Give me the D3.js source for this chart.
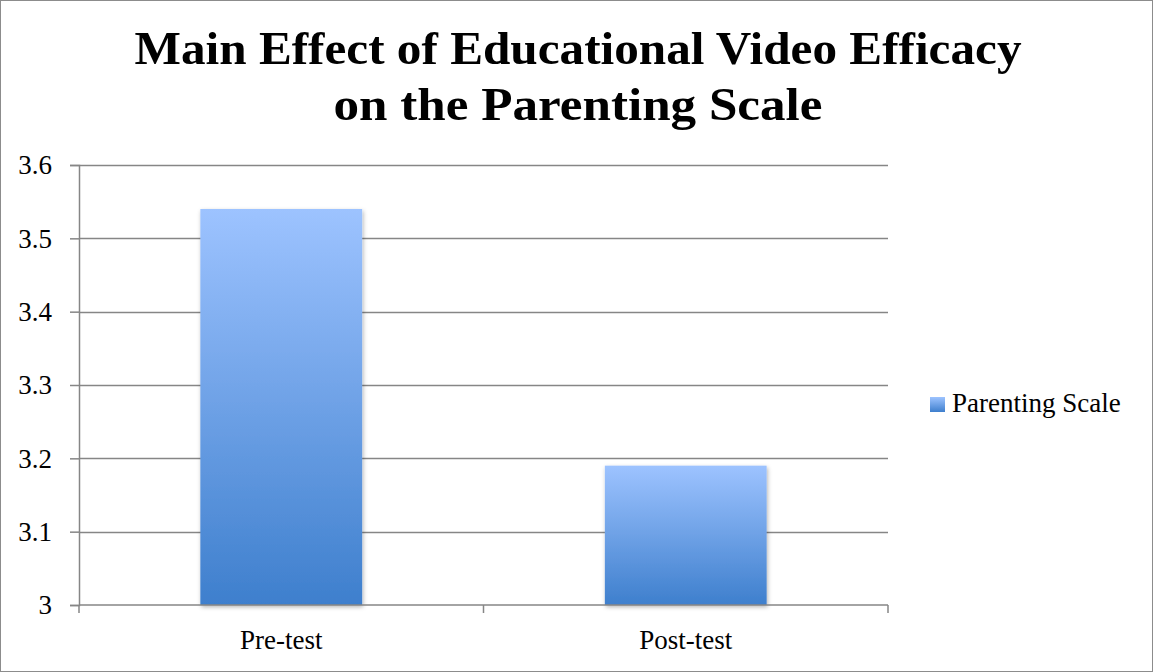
<!DOCTYPE html>
<html lang="en">
<head>
  <meta charset="UTF-8">
  <title>Main Effect of Educational Video Efficacy</title>
  <style>
    body { margin: 0; background: #fff; }
    text { font-family: "Liberation Serif", "DejaVu Serif", serif; fill: #000; }
    .axis path, .axis line { stroke: #868686; }
  </style>
</head>
<body>
<div id="chart"></div>

<script src="https://d3js.org/d3.v7.min.js"></script>
<script>

// data
var categories = ["Pre-test", "Post-test"];
var values = [3.54, 3.19];
var seriesName = "Parenting Scale";
var yTicks = [3, 3.1, 3.2, 3.3, 3.4, 3.5, 3.6];
var titleLines = ["Main Effect of Educational Video Efficacy", "on the Parenting Scale"];

var W = 1153, H = 672;
var margin = {top: 165, right: 265, bottom: 67, left: 79},
    width = W - margin.left - margin.right,
    height = H - margin.top - margin.bottom;

var svg = d3.select("#chart")
  .append("svg")
    .attr("width", W)
    .attr("height", H);

// outer frame
svg.append("rect")
  .attr("x", 0.5).attr("y", 0.5)
  .attr("width", W - 1).attr("height", H - 1)
  .attr("fill", "#fff")
  .attr("stroke", "#8c8c8c");

// gradient for bars
var defs = svg.append("defs");
var grad = defs.append("linearGradient")
  .attr("id", "barGrad")
  .attr("x1", 0).attr("y1", 0).attr("x2", 0).attr("y2", 1);
grad.append("stop").attr("offset", "0%").attr("stop-color", "#9dc3ff");
grad.append("stop").attr("offset", "100%").attr("stop-color", "#3e7fcd");

var shadow = defs.append("filter").attr("id", "shadow")
  .attr("x", "-10%").attr("y", "-10%").attr("width", "130%").attr("height", "130%");
shadow.append("feDropShadow")
  .attr("dx", 1).attr("dy", 2).attr("stdDeviation", 2)
  .attr("flood-color", "#000").attr("flood-opacity", 0.3);

// title (the original uses a narrow bold serif, so stretch to its width)
var titleWidths = [887, 489];
svg.selectAll(".title")
  .data(titleLines)
  .enter().append("text")
  .attr("class", "title")
  .attr("x", 578)
  .attr("y", function(d, i) { return 64 + i * 56; })
  .attr("text-anchor", "middle")
  .attr("textLength", function(d, i) { return titleWidths[i]; })
  .attr("lengthAdjust", "spacingAndGlyphs")
  .style("font-weight", "bold")
  .style("font-size", "47px")
  .text(function(d) { return d; });

var g = svg.append("g")
  .attr("transform", "translate(" + margin.left + "," + margin.top + ")");

var x = d3.scaleBand()
  .domain(categories)
  .range([0, width])
  .paddingInner(0.6)
  .paddingOuter(0.3);

var y = d3.scaleLinear()
  .domain([3, 3.6])
  .range([height, 0]);

// gridlines
g.selectAll(".grid")
  .data(yTicks.slice(1))
  .enter().append("line")
  .attr("class", "grid")
  .attr("x1", 0).attr("x2", width)
  .attr("y1", function(d) { return Math.round(y(d)) + 0.5; })
  .attr("y2", function(d) { return Math.round(y(d)) + 0.5; })
  .attr("stroke", "#868686")
  .attr("stroke-width", 1.5);

// bars
g.selectAll(".bar")
  .data(values)
  .enter().append("rect")
  .attr("class", "bar")
  .attr("x", function(d, i) { return x(categories[i]); })
  .attr("y", function(d) { return y(d); })
  .attr("width", x.bandwidth())
  .attr("height", function(d) { return height - y(d); })
  .attr("fill", "url(#barGrad)")
  .attr("filter", "url(#shadow)");

// y axis
var yAxis = g.append("g")
  .attr("class", "axis")
  .call(d3.axisLeft(y).tickValues(yTicks).tickSize(9).tickPadding(18)
    .tickFormat(function(d) { return d === 3 ? "3" : d3.format(".1f")(d); }));
yAxis.select(".domain").attr("stroke-width", 1.5);
yAxis.selectAll(".tick line").attr("stroke-width", 1.5);
yAxis.selectAll("text")
  .style("font-size", "27px")
  .style("font-family", "'Liberation Serif', serif")
  .attr("dy", "0.33em");

// x axis with boundary ticks
var xAxisG = g.append("g")
  .attr("class", "axis")
  .attr("transform", "translate(0," + height + ")");
xAxisG.append("line")
  .attr("x1", 0).attr("x2", width)
  .attr("stroke", "#868686").attr("stroke-width", 1.5);
var bounds = [0, width / 2, width];
xAxisG.selectAll(".xt")
  .data(bounds)
  .enter().append("line")
  .attr("class", "xt")
  .attr("x1", function(d) { return d; }).attr("x2", function(d) { return d; })
  .attr("y1", 0).attr("y2", 8)
  .attr("stroke", "#868686").attr("stroke-width", 1.5);
xAxisG.selectAll(".xl")
  .data(categories)
  .enter().append("text")
  .attr("class", "xl")
  .attr("x", function(d) { return x(d) + x.bandwidth() / 2; })
  .attr("y", 44)
  .attr("text-anchor", "middle")
  .style("font-size", "27px")
  .text(function(d) { return d; });

// legend
var legend = svg.append("g").attr("transform", "translate(930,397)");
legend.append("rect")
  .attr("width", 15).attr("height", 15)
  .attr("fill", "url(#barGrad)");
legend.append("text")
  .attr("x", 22).attr("y", 15)
  .style("font-size", "27px")
  .text(seriesName);

</script>
</body>
</html>
